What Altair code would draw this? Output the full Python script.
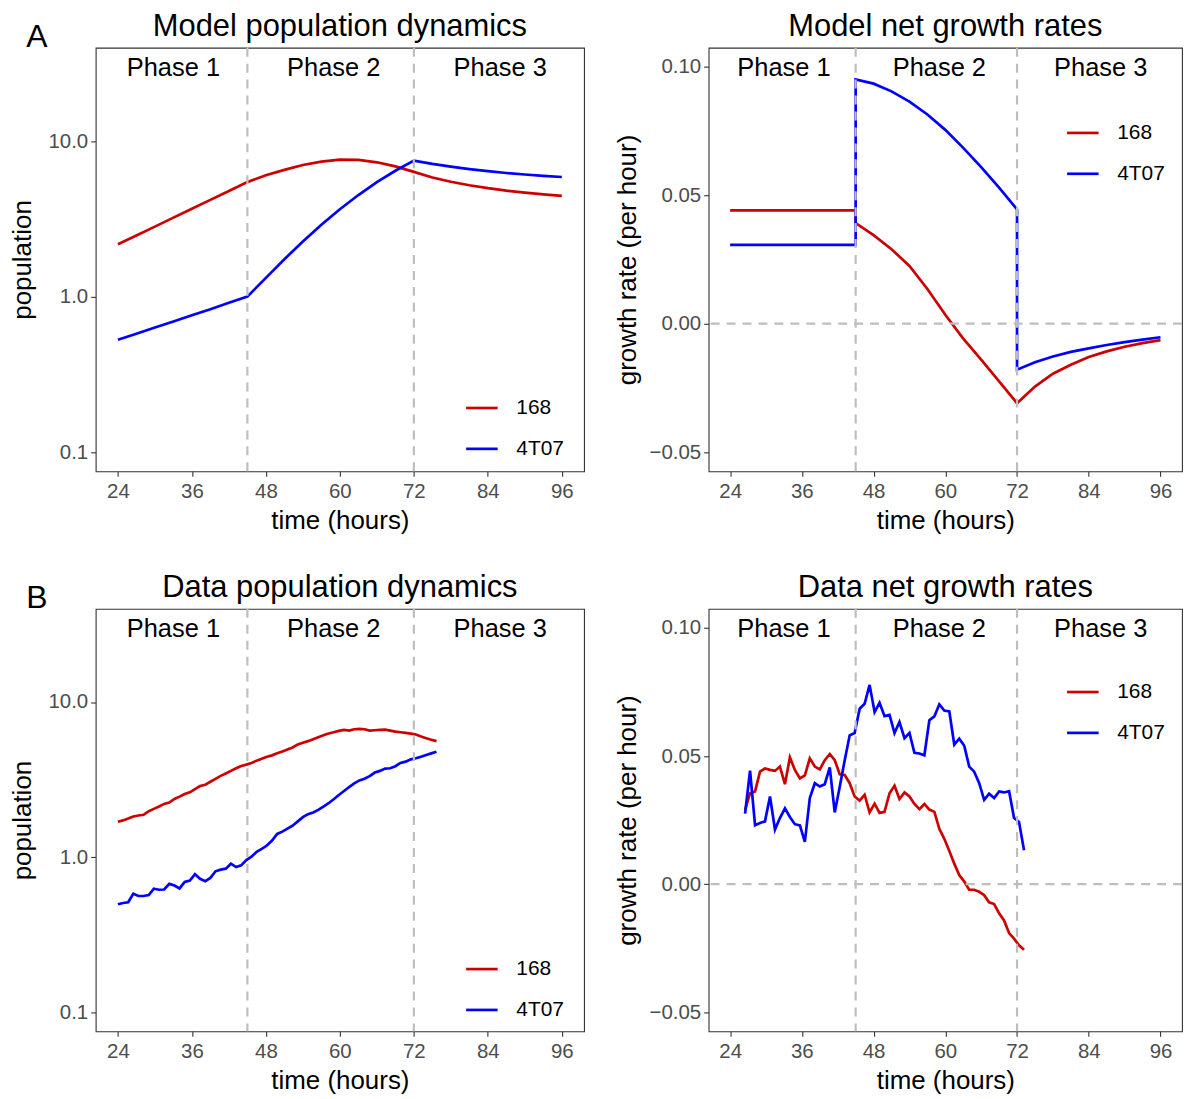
import altair as alt
import pandas as pd

FONT = "Liberation Sans"

# ---------------- categories / labels ----------------
strains = ["168", "4T07"]
strain_colors = ["#CD0000", "#0000FF"]
phase_names = ["Phase 1", "Phase 2", "Phase 3"]
phase_label_x = [33, 59, 86]
phase_label_y_pop = 30
phase_label_y_rate = 0.10
phase_boundaries = [45, 72]
zero_line = [0]
x_ticks = [24, 36, 48, 60, 72, 84, 96]
pop_ticks = [0.1, 1, 10]
rate_ticks = [-0.05, 0, 0.05, 0.10]
x_limits = [20.4, 99.6]
pop_limits = [0.0752, 39.9]
rate_limits = [-0.0575, 0.1075]
panel_letters = ["A", "B"]
panel_titles = ["Model population dynamics", "Model net growth rates",
                "Data population dynamics", "Data net growth rates"]

# ---------------- model: population ----------------
model_t = [24, 27, 30, 33, 36, 39, 42, 45, 48, 51, 54, 57, 60, 63, 66, 69, 72,
           75, 78, 81, 84, 87, 90, 93, 96]
model_pop_168 = [2.17, 2.47, 2.82, 3.22, 3.67, 4.19, 4.78, 5.45, 6.03, 6.53, 7.02,
                 7.38, 7.61, 7.57, 7.31, 6.88, 6.34, 5.84, 5.48, 5.20, 4.98, 4.80,
                 4.66, 4.55, 4.45]
model_pop_4T07 = [0.527, 0.577, 0.632, 0.692, 0.758, 0.830, 0.912, 1.0, 1.32, 1.74,
                  2.26, 2.90, 3.65, 4.50, 5.45, 6.45, 7.50, 7.14, 6.85, 6.61, 6.41,
                  6.24, 6.10, 5.98, 5.88]

# ---------------- model: net growth rates ----------------
model_rate_t_168 = [24, 45, 45, 48, 51, 54, 57, 60, 63, 66, 69, 72, 75, 78, 81, 84,
                    87, 90, 93, 96]
model_rate_168 = [0.0441, 0.0441, 0.0392, 0.0345, 0.0290, 0.0225, 0.0135, 0.0035,
                  -0.0058, -0.0140, -0.0225, -0.0310, -0.0245, -0.0195, -0.0160,
                  -0.0130, -0.0108, -0.0090, -0.0076, -0.0064]
model_rate_t_4T07 = [24, 45, 45, 48, 51, 54, 57, 60, 63, 66, 69, 72, 72, 75, 78, 81,
                     84, 87, 90, 93, 96]
model_rate_4T07 = [0.0307, 0.0307, 0.0951, 0.0935, 0.0905, 0.0865, 0.0815, 0.0755,
                   0.0685, 0.0610, 0.0530, 0.0445, -0.0179, -0.0150, -0.0128,
                   -0.0110, -0.0096, -0.0083, -0.0072, -0.0062, -0.0053]

# ---------------- data: population ----------------
data_t = [24.00, 24.83, 25.67, 26.50, 27.33, 28.17, 29.00, 29.83, 30.67, 31.50,
          32.33, 33.17, 34.00, 34.83, 35.67, 36.50, 37.33, 38.17, 39.00, 39.83,
          40.67, 41.50, 42.33, 43.17, 44.00, 44.83, 45.67, 46.50, 47.33, 48.17,
          49.00, 49.83, 50.67, 51.50, 52.33, 53.17, 54.00, 54.83, 55.67, 56.50,
          57.33, 58.17, 59.00, 59.83, 60.67, 61.50, 62.33, 63.17, 64.00, 64.83,
          65.67, 66.50, 67.33, 68.17, 69.00, 69.83, 70.67, 71.50, 72.33, 73.17,
          74.00, 74.83, 75.67]
data_pop_168 = [1.690, 1.724, 1.775, 1.828, 1.855, 1.874, 1.978, 2.046, 2.118, 2.203,
                2.247, 2.371, 2.454, 2.552, 2.616, 2.747, 2.871, 2.928, 3.060, 3.197,
                3.342, 3.458, 3.597, 3.741, 3.872, 3.949, 4.047, 4.188, 4.313, 4.442,
                4.529, 4.665, 4.804, 4.948, 5.096, 5.325, 5.458, 5.593, 5.760, 5.933,
                6.109, 6.260, 6.384, 6.511, 6.608, 6.543, 6.673, 6.705, 6.673, 6.543,
                6.576, 6.608, 6.641, 6.543, 6.448, 6.384, 6.322, 6.260, 6.168, 5.992,
                5.846, 5.705, 5.593]
data_pop_4T07 = [0.496, 0.506, 0.511, 0.580, 0.561, 0.561, 0.569, 0.625, 0.616, 0.618,
                 0.672, 0.656, 0.628, 0.692, 0.706, 0.775, 0.724, 0.699, 0.734, 0.810,
                 0.830, 0.842, 0.907, 0.863, 0.885, 0.957, 1.005, 1.082, 1.131, 1.187,
                 1.278, 1.410, 1.459, 1.525, 1.594, 1.699, 1.810, 1.892, 1.940, 2.017,
                 2.118, 2.225, 2.360, 2.515, 2.667, 2.829, 2.985, 3.120, 3.197, 3.326,
                 3.510, 3.597, 3.722, 3.741, 3.853, 4.047, 4.127, 4.271, 4.335, 4.442,
                 4.552, 4.665, 4.781]

# ---------------- data: net growth rates ----------------
data_rate_t = data_t[3:60]
data_rate_168 = [0.0290, 0.0355, 0.0362, 0.0439, 0.0452, 0.0446, 0.0442, 0.0459, 0.0390,
                 0.0495, 0.0446, 0.0413, 0.0425, 0.0491, 0.0459, 0.0448, 0.0484, 0.0508,
                 0.0484, 0.0429, 0.0426, 0.0394, 0.0342, 0.0326, 0.0349, 0.0280, 0.0314,
                 0.0278, 0.0282, 0.0355, 0.0384, 0.0332, 0.0358, 0.0342, 0.0313, 0.0293,
                 0.0313, 0.0291, 0.0282, 0.0216, 0.0177, 0.0129, 0.0080, 0.0035, 0.0010,
                 -0.0022, -0.0022, -0.0030, -0.0043, -0.0071, -0.0078, -0.0114, -0.0142,
                 -0.0191, -0.0213, -0.0239, -0.0256]
data_rate_4T07 = [0.0275, 0.0443, 0.0230, 0.0239, 0.0245, 0.0342, 0.0213, 0.0258, 0.0296,
                  0.0262, 0.0234, 0.0229, 0.0165, 0.0336, 0.0394, 0.0381, 0.0390, 0.0456,
                  0.0280, 0.0379, 0.0484, 0.0581, 0.0590, 0.0685, 0.0704, 0.0778, 0.0672,
                  0.0708, 0.0656, 0.0661, 0.0590, 0.0633, 0.0570, 0.0590, 0.0513, 0.0510,
                  0.0503, 0.0640, 0.0655, 0.0702, 0.0678, 0.0674, 0.0545, 0.0568, 0.0540,
                  0.0459, 0.0439, 0.0394, 0.0329, 0.0353, 0.0336, 0.0362, 0.0358, 0.0363,
                  0.0258, 0.0243, 0.0132]


def long_frame(t1, v1, t2, v2):
    rows = []
    for strain, ts, vs in ((strains[0], t1, v1), (strains[1], t2, v2)):
        for i, (t, v) in enumerate(zip(ts, vs)):
            rows.append({"t": t, "v": v, "strain": strain, "seq": i})
    return pd.DataFrame(rows)


def panel(df, title, y_title, y_scale, y_ticks, y_fmt, y_title_pad, phase_y,
          legend_x, legend_y, width, height, letter=None, zero=False):
    x_scale = alt.Scale(domain=x_limits, nice=False, zero=False)
    x_axis = alt.Axis(values=x_ticks, title="time (hours)", labelPadding=5,
                      titlePadding=6)
    y_axis = alt.Axis(values=y_ticks, format=y_fmt, title=y_title,
                      titlePadding=y_title_pad)

    def X(f):
        return alt.X(f, type="quantitative", scale=x_scale, axis=x_axis)

    def Y(f):
        return alt.Y(f, type="quantitative", scale=y_scale, axis=y_axis)

    lines = alt.Chart(df).mark_line(strokeWidth=2.7).encode(
        x=X("t"),
        y=Y("v"),
        color=alt.Color(
            "strain:N",
            scale=alt.Scale(domain=strains, range=strain_colors),
            legend=alt.Legend(title=None, orient="none", legendX=legend_x,
                              legendY=legend_y),
        ),
        order=alt.Order("seq:Q"),
    )
    vrules = alt.Chart(pd.DataFrame({"t": phase_boundaries})).mark_rule(
        color="#BEBEBE", strokeDash=[9, 7], strokeWidth=2.2
    ).encode(x=X("t"))
    layers = [lines, vrules]
    if zero:
        hrule = alt.Chart(pd.DataFrame({"v": zero_line})).mark_rule(
            color="#BEBEBE", strokeDash=[9, 7], strokeWidth=2.2
        ).encode(y=Y("v"))
        layers.append(hrule)
    phase_df = pd.DataFrame({"x": phase_label_x, "y": [phase_y] * 3, "label": phase_names})
    phases = alt.Chart(phase_df).mark_text(
        font=FONT, fontSize=25.5, color="black", baseline="middle", align="center", dy=1
    ).encode(x=X("x"), y=Y("y"), text="label:N")
    layers.append(phases)
    ttl = alt.Chart(pd.DataFrame({"title": [title]})).mark_text(
        font=FONT, fontSize=31, color="black", baseline="middle", align="center"
    ).encode(x=alt.value(width / 2), y=alt.value(-21), text="title:N")
    layers.append(ttl)
    if letter is not None:
        let = alt.Chart(pd.DataFrame({"letter": [letter]})).mark_text(
            font=FONT, fontSize=32, color="black", baseline="middle", align="center"
        ).encode(x=alt.value(-59), y=alt.value(-11), text="letter:N")
        layers.append(let)
    return alt.layer(*layers).properties(width=width, height=height)


pop_scale = alt.Scale(type="log", domain=pop_limits, nice=False)
rate_scale = alt.Scale(domain=rate_limits, nice=False, zero=False)

tl = panel(long_frame(model_t, model_pop_168, model_t, model_pop_4T07),
           panel_titles[0], "population", pop_scale, pop_ticks, ".1f", 13,
           phase_label_y_pop, 370, 344, 490, 425, letter=panel_letters[0])
tr = panel(long_frame(model_rate_t_168, model_rate_168, model_rate_t_4T07, model_rate_4T07),
           panel_titles[1], "growth rate (per hour)", rate_scale, rate_ticks,
           ".2f", 8, phase_label_y_rate, 358, 68, 475, 425, zero=True)
bl = panel(long_frame(data_t, data_pop_168, data_t, data_pop_4T07),
           panel_titles[2], "population", pop_scale, pop_ticks, ".1f", 13,
           phase_label_y_pop, 370, 344, 490, 424, letter=panel_letters[1])
br = panel(long_frame(data_rate_t, data_rate_168, data_rate_t, data_rate_4T07),
           panel_titles[3], "growth rate (per hour)", rate_scale, rate_ticks,
           ".2f", 8, phase_label_y_rate, 358, 66, 475, 424, zero=True)

chart = alt.concat(
    tl, tr, bl, br, columns=2, spacing={"row": 138, "column": 125}, bounds="flush"
).resolve_scale(color="independent").resolve_legend(color="independent").configure(
    font=FONT, padding={"left": 0, "top": 0, "right": 0, "bottom": 0}
).configure_view(
    stroke="#333333", strokeWidth=1.1
).configure_axis(
    grid=False, domain=False, labelFont=FONT, labelFontSize=20.5, labelColor="#4D4D4D",
    titleFont=FONT, titleFontSize=26, titleFontWeight="normal", titleColor="black",
    tickColor="#333333", tickSize=5, tickWidth=1.1, labelPadding=3,
).configure_legend(
    labelFont=FONT, labelFontSize=21, labelColor="black", symbolType="stroke",
    symbolSize=1000, symbolStrokeWidth=2.7, rowPadding=13, labelOffset=17, padding=0,
)

chart.save("out.html", embed_options={"renderer": "svg", "actions": False})
